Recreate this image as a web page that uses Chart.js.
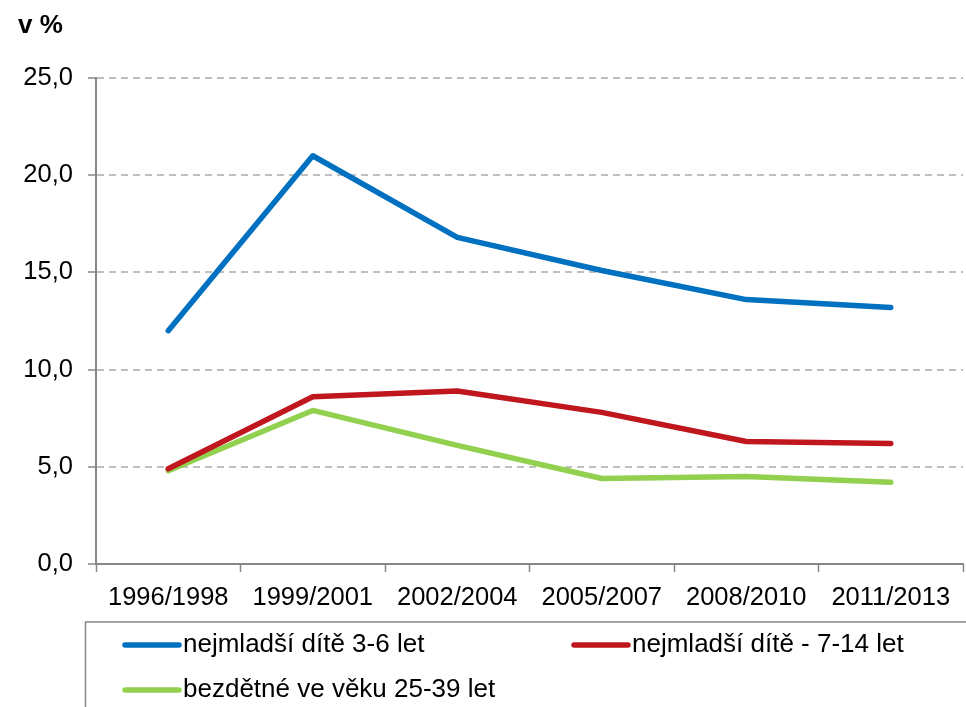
<!DOCTYPE html>
<html>
<head>
<meta charset="utf-8">
<script src="https://cdn.jsdelivr.net/npm/chart.js@4.4.0/dist/chart.umd.min.js"></script>
<style>
  body { margin: 0; background: #fff; }
  #wrap { position: relative; width: 966px; height: 707px; overflow: hidden; }
</style>
</head>
<body>
<div id="wrap"><canvas id="chart" width="966" height="707"></canvas></div>
<script>
// periods on x axis
const periods = ["1996/1998", "1999/2001", "2002/2004", "2005/2007", "2008/2010", "2011/2013"];

// values in %
const youngest36 = [12.0, 21.0, 16.8, 15.1, 13.6, 13.2];
const youngest714 = [4.9, 8.6, 8.9, 7.8, 6.3, 6.2];
const childless2539 = [4.8, 7.9, 6.1, 4.4, 4.5, 4.2];

const seriesNames = ["nejmladší dítě 3-6 let", "nejmladší dítě - 7-14 let", "bezdětné ve věku 25-39 let"];
const seriesColors = ["#0070C0", "#C0171F", "#92D050"];

const axisGray = "#878787";
const FONT = "'Liberation Sans', Arial, sans-serif";

// draws the "v %" label and the Excel-like legend box under the axis
const extrasPlugin = {
    id: "extras",
    afterDraw(chart) {
        const ctx = chart.ctx;
        ctx.save();
        ctx.fillStyle = "#000";
        ctx.font = "bold 26px " + FONT;
        ctx.textBaseline = "middle";
        ctx.fillText("v %", 18, 26);

        // legend frame (runs off the right and bottom edges)
        ctx.strokeStyle = axisGray;
        ctx.lineWidth = 1.5;
        ctx.strokeRect(85.5, 622, 900, 120);

        const spots = [[125, 645], [574, 645], [125, 690]];
        ctx.font = "26px " + FONT;
        chart.data.datasets.forEach((ds, i) => {
            const [x, y] = spots[i];
            ctx.strokeStyle = ds.borderColor;
            ctx.lineWidth = 5.5;
            ctx.lineCap = "round";
            ctx.beginPath();
            ctx.moveTo(x, y);
            ctx.lineTo(x + 54, y);
            ctx.stroke();
            ctx.fillStyle = "#000";
            ctx.fillText(ds.label, x + 58, y);
        });
        ctx.restore();
    }
};

const ctx = document.getElementById("chart").getContext("2d");

new Chart(ctx, {
    type: "line",
    data: {
        labels: periods,
        datasets: [youngest36, youngest714, childless2539].map((values, i) => ({
            label: seriesNames[i],
            data: values,
            borderColor: seriesColors[i],
            backgroundColor: seriesColors[i],
            borderWidth: 5.5,
            borderCapStyle: "round",
            borderJoinStyle: "round",
            pointRadius: 0,
            tension: 0,
            fill: false
        }))
    },
    options: {
        responsive: false,
        animation: false,
        layout: {
            padding: { top: 78, left: 0, right: 3, bottom: 87 }
        },
        plugins: {
            legend: { display: false },
            tooltip: { enabled: false }
        },
        scales: {
            x: {
                offset: true,
                afterFit: scale => { scale.height = 56; },
                grid: {
                    offset: true,
                    drawOnChartArea: false,
                    tickLength: 8,
                    tickColor: axisGray,
                    tickWidth: 1.5
                },
                border: { color: axisGray, width: 2 },
                ticks: {
                    color: "#000",
                    font: { family: FONT, size: 25.5 },
                    padding: 11,
                    maxRotation: 0,
                    autoSkip: false
                }
            },
            y: {
                min: 0,
                max: 25,
                afterFit: scale => { scale.width = 96; },
                grid: {
                    color: "#bfbfbf",
                    lineWidth: 2,
                    tickLength: 8,
                    tickColor: axisGray,
                    tickWidth: 1.5,
                    tickBorderDash: []
                },
                border: { color: axisGray, width: 2, dash: [7, 5] },
                ticks: {
                    stepSize: 5,
                    color: "#000",
                    padding: 15,
                    font: { family: FONT, size: 25.5 },
                    callback: v => v.toFixed(1).replace(".", ",")
                }
            }
        }
    },
    plugins: [extrasPlugin]
});
</script>
</body>
</html>
